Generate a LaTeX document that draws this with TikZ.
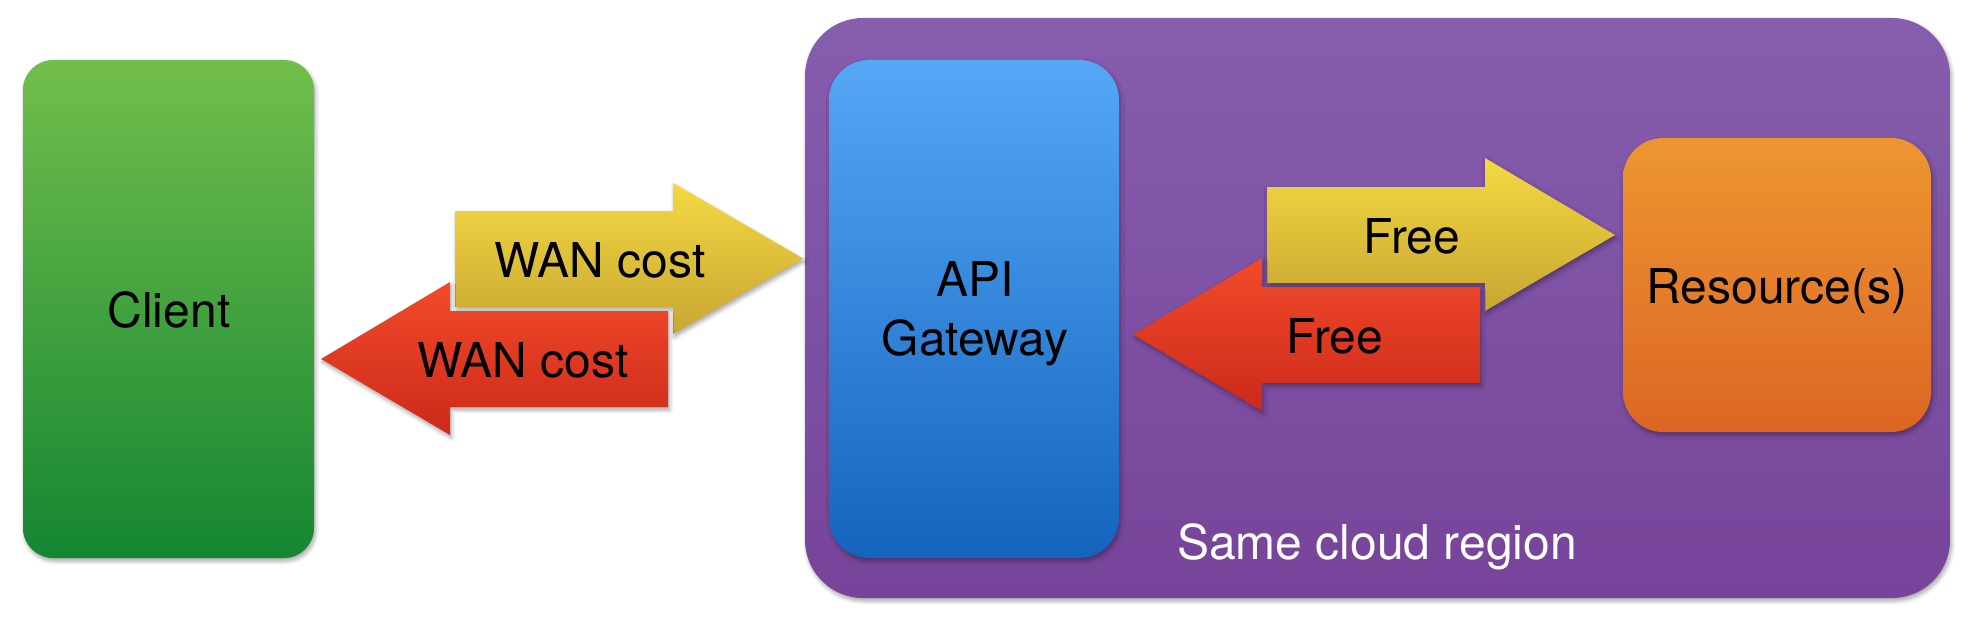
\documentclass[tikz,border=0pt]{standalone}
\usepackage{fontspec}
\setmainfont{TeX Gyre Heros}
\usetikzlibrary{shadows.blur}
\definecolor{greenT}{HTML}{72BE4C}
\definecolor{greenB}{HTML}{148632}
\definecolor{purpleT}{HTML}{865EAE}
\definecolor{purpleB}{HTML}{76449A}
\definecolor{blueT}{HTML}{54A8F6}
\definecolor{blueB}{HTML}{1464BE}
\definecolor{orangeT}{HTML}{EE9631}
\definecolor{orangeB}{HTML}{DC6624}
\definecolor{yellowT}{HTML}{F3D942}
\definecolor{yellowB}{HTML}{C8A632}
\definecolor{redT}{HTML}{F24B2A}
\definecolor{redB}{HTML}{CB291A}
\tikzset{
  shad/.style={blur shadow={shadow xshift=1.5pt, shadow yshift=-3pt, shadow blur radius=4pt, shadow blur steps=6, shadow opacity=35}},
  box/.style={shad, inner sep=0pt, rounded corners=#1},
  lbl/.style={inner sep=0pt, anchor=base, font=\fontsize{48}{59}\selectfont},
  yarrow/.style={shad, top color=yellowT, bottom color=yellowB},
  rarrow/.style={shad, top color=redT, bottom color=redB},
}
\begin{document}
\begin{tikzpicture}[x=1pt,y=-1pt]
\useasboundingbox (0,0) rectangle (1970,618);
% region
\node[box=58pt, top color=purpleT, bottom color=purpleB, minimum width=1145pt, minimum height=580pt] (region) at (1377.5,308) {};
% boxes
\node[box=30pt, top color=greenT, bottom color=greenB, minimum width=291pt, minimum height=498pt] (client) at (168.5,309) {};
\node[box=40pt, top color=blueT, bottom color=blueB, minimum width=290pt, minimum height=498pt] (api) at (974,309) {};
\node[box=40pt, top color=orangeT, bottom color=orangeB, minimum width=308pt, minimum height=294pt] (res) at (1777,285) {};
% arrows
\path[yarrow] (455,211) -- (673,211) -- (673,183) -- (803,258.5) -- (673,334) -- (673,307) -- (455,307) -- cycle;
\path[rarrow] (668,311) -- (450,311) -- (450,282) -- (321,359) -- (450,435) -- (450,407) -- (668,407) -- cycle;
\path[yarrow] (1267,187) -- (1485,187) -- (1485,158) -- (1615,235) -- (1485,311) -- (1485,283) -- (1267,283) -- cycle;
\path[rarrow] (1480,287) -- (1262,287) -- (1262,258) -- (1133,334.5) -- (1262,411) -- (1262,383) -- (1480,383) -- cycle;
% labels
\node[lbl] (clientlbl) at (169,327) {Client};
\node[lbl] (apilbl1) at (975,296) {API};
\node[lbl] (apilbl2) at (975,355) {Gateway};
\node[lbl] (reslbl) at (1777,303) {Resource(s)};
\node[lbl] (wan1) at (600,277) {WAN cost};
\node[lbl] (wan2) at (523,377) {WAN cost};
\node[lbl] (free1) at (1412,253) {Free};
\node[lbl] (free2) at (1335,353) {Free};
\node[lbl, anchor=base west, text=white] (regionlbl) at (1177,559) {Same cloud region};
\end{tikzpicture}
\end{document}
